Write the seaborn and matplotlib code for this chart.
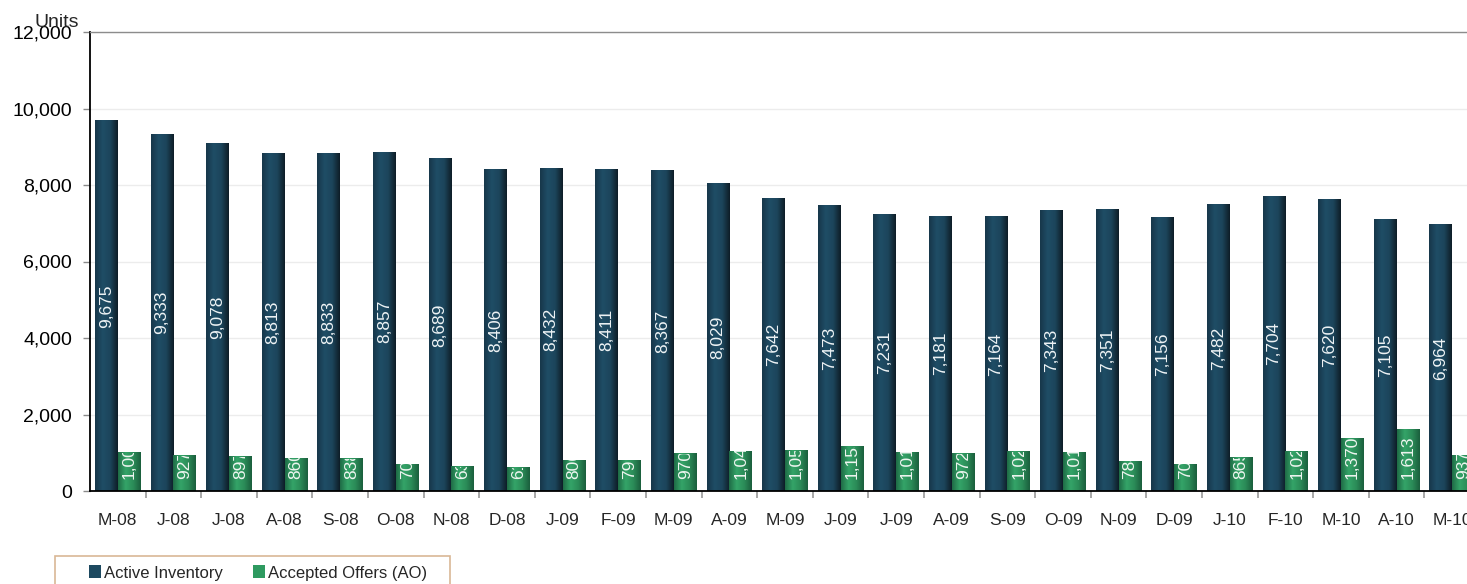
import numpy as np
import pandas as pd
import matplotlib
matplotlib.use("Agg")
import matplotlib.pyplot as plt
import seaborn as sns
from matplotlib.colors import to_rgb
from matplotlib.patches import Patch, Rectangle
from matplotlib.transforms import Bbox, TransformedBbox, offset_copy
from matplotlib.ticker import FuncFormatter, FixedLocator
from matplotlib import font_manager

# ---- data -------------------------------------------------------------
months = ["M-08", "J-08", "J-08", "A-08", "S-08", "O-08", "N-08", "D-08",
          "J-09", "F-09", "M-09", "A-09", "M-09", "J-09", "J-09", "A-09",
          "S-09", "O-09", "N-09", "D-09", "J-10", "F-10", "M-10", "A-10", "M-10"]
active_inventory = [9675, 9333, 9078, 8813, 8833, 8857, 8689, 8406, 8432, 8411,
                    8367, 8029, 7642, 7473, 7231, 7181, 7164, 7343, 7351, 7156,
                    7482, 7704, 7620, 7105, 6964]
accepted_offers = [1003, 927, 897, 860, 838, 703, 634, 612, 806, 793,
                   970, 1045, 1052, 1153, 1013, 972, 1022, 1017, 784, 705,
                   865, 1024, 1370, 1613, 937]
series_names = ["Active Inventory", "Accepted Offers (AO)"]
y_ticks = [0, 2000, 4000, 6000, 8000, 10000, 12000]

# ---- styling ----------------------------------------------------------
sns.set_style("white")
installed = {f.name for f in font_manager.fontManager.ttflist}
narrow = "Liberation Sans Narrow" in installed
base_font = ["Liberation Sans", "DejaVu Sans"]
narrow_font = ["Liberation Sans Narrow", "Liberation Sans"] if narrow else base_font
plt.rcParams["font.family"] = base_font

dark_mid = "#1d4960"
green_mid = "#2e9a60"
dark_stops = ["#17374a", "#1f4d66", "#1c455b", "#0e1d27"]
green_stops = ["#1f6c46", "#34a468", "#2b8c58", "#1b5f3d"]


def gradient(stops, n=64):
    pos = np.linspace(0, 1, len(stops))
    cols = np.array([to_rgb(c) for c in stops])
    xs = np.linspace(0, 1, n)
    return np.stack([np.interp(xs, pos, cols[:, k]) for k in range(3)], axis=-1)[None, :, :]


df = pd.DataFrame({
    "idx": list(range(len(months))) * 2,
    "series": [series_names[0]] * len(months) + [series_names[1]] * len(months),
    "value": active_inventory + accepted_offers,
})

fig = plt.figure(figsize=(14.67, 5.84), dpi=100)
W, H = 1467, 584
ax = fig.add_axes([90 / W, 1 - 491 / H, 1390 / W, 459 / H])

sns.barplot(data=df, x="idx", y="value", hue="series", hue_order=series_names,
            palette=[dark_mid, green_mid], width=0.82, saturation=1,
            linewidth=0, legend=False, ax=ax)

# gradient fill and value labels on each bar
grads = [gradient(dark_stops), gradient(green_stops)]
bar_fs = 12.5
for k, cont in enumerate(ax.containers):
    vals = active_inventory if k == 0 else accepted_offers
    for patch, v in zip(cont.patches, vals):
        x0 = patch.get_x()
        w = patch.get_width()
        h = patch.get_height()
        ax.imshow(grads[k], extent=(x0, x0 + w, 0, h), aspect="auto",
                  interpolation="bilinear", zorder=patch.get_zorder() + 0.1)
        label = f"{v:,}"
        if k == 0:
            ax.text(x0 + w / 2, h / 2, label, rotation=90, ha="center", va="center",
                    color="#eef3f5", fontsize=bar_fs, family=narrow_font, zorder=5)
        else:
            t = ax.text(x0 + w / 2, 0, label, rotation=90, ha="center", va="bottom",
                        color="#eef5f0", fontsize=bar_fs, family=narrow_font, zorder=5,
                        transform=offset_copy(ax.transData, fig=fig, y=12, units="dots"))
            t.set_clip_box(TransformedBbox(Bbox.from_extents(x0, 0, x0 + w, h), ax.transData))
            t.set_clip_on(True)

ax.set_xlim(-0.5, len(months) - 0.5)
ax.set_ylim(0, 12000)

# y axis
ax.yaxis.set_major_locator(FixedLocator(y_ticks))
ax.yaxis.set_major_formatter(FuncFormatter(lambda v, p: f"{v:,.0f}"))
ax.tick_params(axis="y", which="major", length=5, width=1, color="#8a8a8a",
               pad=8, labelsize=14, labelcolor="black", left=True)
ax.set_ylabel("")
ax.grid(axis="y", color="#ececec", linewidth=1)
ax.set_axisbelow(True)

# x axis: labels at category centres, tick marks between groups
ax.set_xticks(range(len(months)))
ax.set_xticklabels(months, fontsize=14 if narrow else 12.5, family=narrow_font)
ax.set_xticks(np.arange(0.5, len(months) - 0.5, 1), minor=True)
ax.tick_params(axis="x", which="major", length=0, pad=16)
ax.tick_params(axis="x", which="minor", length=5, width=1.2, color="#999999", bottom=True)
ax.set_xlabel("")

for side in ["left", "bottom"]:
    ax.spines[side].set_color("black")
    ax.spines[side].set_linewidth(1.3)
ax.spines["top"].set_color("#8c8c8c")
ax.spines["top"].set_linewidth(1)
ax.spines["right"].set_visible(False)

fig.text(35 / W, 1 - 27 / H, "Units", fontsize=14, ha="left", va="baseline")

# legend box along the bottom
fig.patches.append(Rectangle((55 / W, -30 / H), 395 / W, 58 / H,
                             transform=fig.transFigure, fill=False,
                             edgecolor="#d9b896", linewidth=1.2))
leg_size = 14 if narrow else 12
handles = [Patch(facecolor=dark_mid, edgecolor="none"), Patch(facecolor=green_mid, edgecolor="none")]
fs_px = leg_size * 100 / 72
fig.legend(handles, series_names, loc="center left", bbox_to_anchor=(89 / W, 1 - 573 / H),
           ncol=2, frameon=False, borderpad=0, borderaxespad=0,
           handlelength=12 / fs_px, handleheight=13 / fs_px, handletextpad=3 / fs_px,
           columnspacing=30 / fs_px, prop={"family": narrow_font, "size": leg_size})

fig.savefig("out.png", dpi=100)
